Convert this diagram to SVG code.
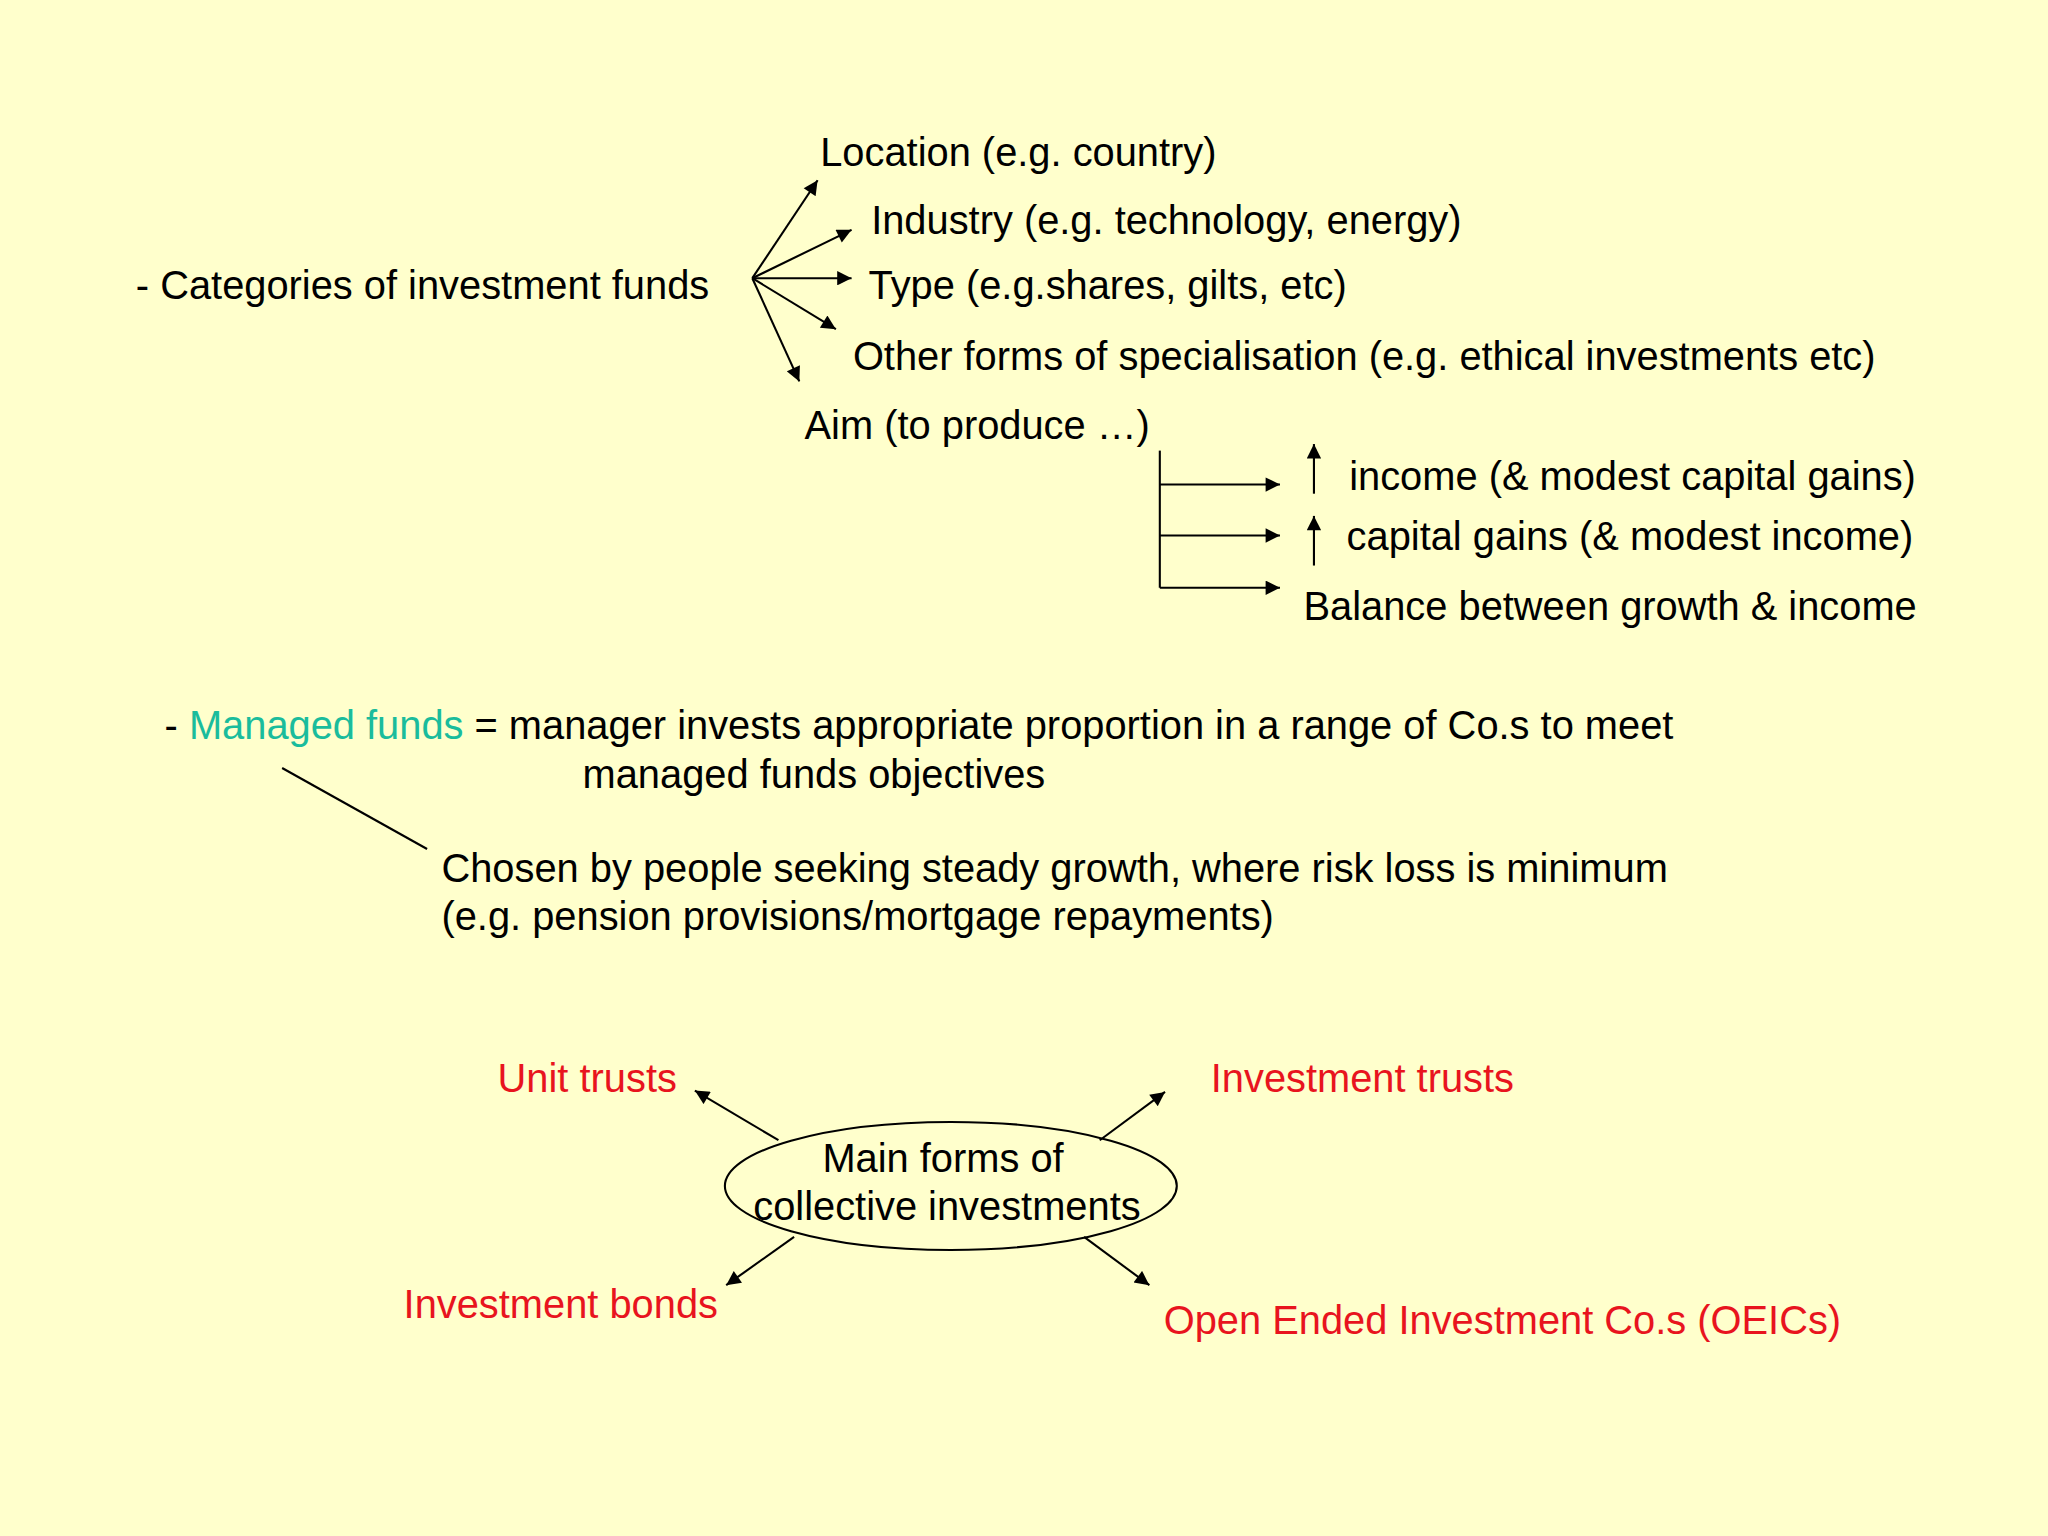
<svg xmlns="http://www.w3.org/2000/svg" width="2048" height="1536" viewBox="0 0 2048 1536">
<defs>
<marker id="a" viewBox="0 0 10 10" refX="10" refY="5" markerWidth="12" markerHeight="11" markerUnits="userSpaceOnUse" orient="auto"><path d="M0,0L10,5L0,10z" fill="#000"/></marker>
<style>
text{font-family:"Liberation Sans",Arial,sans-serif;font-size:30.5px;fill:#000}
.r{fill:#e8141e}
.g{fill:#1abc9c}
line,path.c{stroke:#000;stroke-width:1.6;fill:none}
.m{marker-end:url(#a)}
</style>
</defs>
<rect width="2048" height="1536" fill="#ffffcc"/>
<g transform="scale(1.3061)">
<g id="connectors">
<line class="m" x1="576" y1="213" x2="626" y2="138"/>
<line class="m" x1="576" y1="213" x2="652" y2="176"/>
<line class="m" x1="576" y1="213" x2="652" y2="213"/>
<line class="m" x1="576" y1="213" x2="640" y2="252"/>
<line class="m" x1="576" y1="213" x2="612" y2="292"/>
<line x1="888" y1="345" x2="888" y2="450"/>
<line class="m" x1="888" y1="371" x2="980" y2="371"/>
<line class="m" x1="888" y1="410" x2="980" y2="410"/>
<line class="m" x1="888" y1="450" x2="980" y2="450"/>
<line class="m" x1="1006" y1="378" x2="1006" y2="340"/>
<line class="m" x1="1006" y1="433" x2="1006" y2="395"/>
<line x1="216" y1="588" x2="327" y2="650"/>
<line class="m" x1="596" y1="873" x2="532" y2="835"/>
<line class="m" x1="842" y1="873" x2="892" y2="836"/>
<line class="m" x1="608" y1="947" x2="556" y2="984"/>
<line class="m" x1="830" y1="947" x2="880" y2="984"/>
</g>
<g id="categories"><text x="104" y="229">- Categories of investment funds</text></g>
<g id="location"><text x="628" y="127">Location (e.g. country)</text></g>
<g id="industry"><text x="667" y="179">Industry (e.g. technology, energy)</text></g>
<g id="type"><text x="665" y="229">Type (e.g.shares, gilts, etc)</text></g>
<g id="other"><text x="653" y="283">Other forms of specialisation (e.g. ethical investments etc)</text></g>
<g id="aim"><text x="616" y="336">Aim (to produce …)</text></g>
<g id="income"><text x="1033" y="375">income (&amp; modest capital gains)</text></g>
<g id="capital"><text x="1031" y="421">capital gains (&amp; modest income)</text></g>
<g id="balance"><text x="998" y="475">Balance between growth &amp; income</text></g>
<g id="managed"><text x="126" y="566">- <tspan class="g">Managed funds</tspan> = manager invests appropriate proportion in a range of Co.s to meet</text><text x="446" y="603">managed funds objectives</text></g>
<g id="chosen"><text x="338" y="675">Chosen by people seeking steady growth, where risk loss is minimum</text><text x="338" y="712">(e.g. pension provisions/mortgage repayments)</text></g>
<g id="main"><ellipse cx="728" cy="908" rx="173" ry="49" fill="none" stroke="#000" stroke-width="1.6"/><text x="722" y="897" text-anchor="middle">Main forms of</text><text x="725" y="934" text-anchor="middle">collective investments</text></g>
<g id="unit"><text class="r" x="381" y="836">Unit trusts</text></g>
<g id="invtrusts"><text class="r" x="927" y="836">Investment trusts</text></g>
<g id="bonds"><text class="r" x="309" y="1009">Investment bonds</text></g>
<g id="oeic"><text class="r" x="891" y="1021">Open Ended Investment Co.s (OEICs)</text></g>
</g>
</svg>
